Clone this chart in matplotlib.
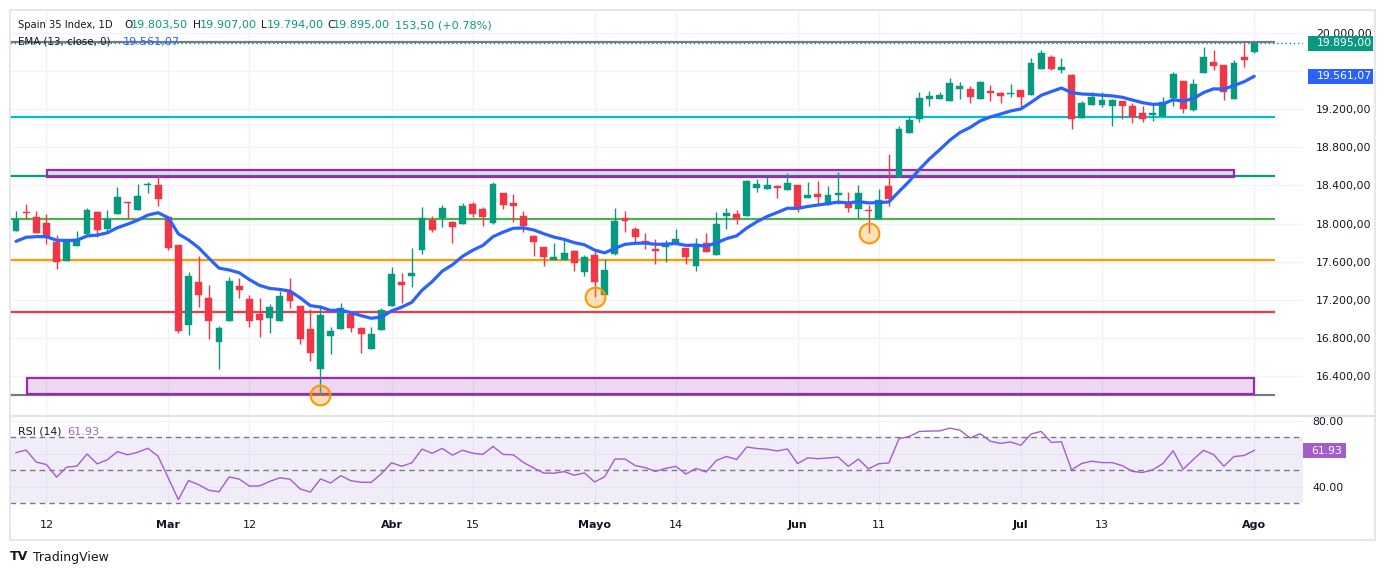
import numpy as np
import matplotlib
matplotlib.use("Agg")
import matplotlib.pyplot as plt
from matplotlib.patches import Rectangle
from matplotlib.lines import Line2D

# ---------------- data ----------------
opens = [17925, 18120, 18068, 18006, 17806, 17610, 17768, 17894, 18121, 17946,
         18104, 18230, 18146, 18401, 18404, 18065, 17771, 16939, 17387, 17219,
         16761, 16981, 17345, 17208, 17051, 17012, 16981, 17285, 17135, 16894,
         16477, 16823, 16897, 17054, 16904, 16687, 16886, 17138, 17387, 17453,
         17722, 18037, 18058, 18020, 17999, 18205, 18153, 18006, 18321, 18216,
         18079, 17869, 17754, 17618, 17621, 17712, 17488, 17670, 17254, 17684,
         18055, 17939, 17817, 17733, 17758, 17800, 17744, 17559, 17793, 17674,
         18083, 18097, 18083, 18377, 18367, 18395, 18356, 18402, 18265, 18311,
         18195, 18303, 18219, 18149, 18143, 18048, 18394, 18485, 18954, 19097,
         19311, 19311, 19290, 19416, 19409, 19307, 19391, 19370, 19363, 19402,
         19349, 19626, 19748, 19615, 19563, 19111, 19248, 19248, 19237, 19286,
         19237, 19160, 19143, 19132, 19318, 19493, 19195, 19584, 19696, 19664,
         19307, 19748, 19803.5]
highs = [18135, 18205, 18131, 18100, 17876, 17841, 17922, 18163, 18128, 18142,
         18384, 18230, 18412, 18436, 18510, 18065, 17771, 17488, 17659, 17355,
         16925, 17439, 17432, 17250, 17222, 17156, 17296, 17432, 17135, 17103,
         17128, 16918, 17170, 17060, 16918, 16918, 17117, 17544, 17485, 17743,
         18174, 18079, 18198, 18030, 18219, 18223, 18177, 18436, 18321, 18310,
         18132, 17880, 17754, 17796, 17827, 17722, 17670, 17715, 17625, 18160,
         18132, 17964, 17904, 17838, 17828, 17943, 17744, 17849, 17901, 18122,
         18167, 18143, 18461, 18468, 18489, 18400, 18531, 18405, 18433, 18447,
         18394, 18538, 18328, 18401, 18199, 18359, 18730, 19024, 19129, 19381,
         19391, 19384, 19531, 19486, 19444, 19493, 19451, 19384, 19468, 19402,
         19738, 19822, 19769, 19734, 19570, 19286, 19381, 19384, 19307, 19286,
         19262, 19234, 19251, 19325, 19591, 19493, 19521, 19853, 19818, 19664,
         19713, 19895, 19907]
lows = [17920, 18044, 17900, 17789, 17526, 17605, 17768, 17894, 17855, 17897,
        18104, 18062, 18146, 18324, 18188, 17719, 16855, 16834, 17127, 16792,
        16474, 16981, 17222, 16918, 16813, 16855, 16981, 17117, 16740, 16561,
        16201, 16635, 16897, 16862, 16645, 16687, 16886, 17138, 17170, 17338,
        17684, 17911, 17967, 17799, 17999, 18072, 17978, 17999, 18149, 18020,
        17915, 17660, 17555, 17618, 17621, 17506, 17453, 17233, 17254, 17670,
        17915, 17810, 17736, 17579, 17601, 17800, 17576, 17506, 17700, 17674,
        17943, 17992, 18083, 18335, 18367, 18272, 18356, 18125, 18265, 18202,
        18195, 18205, 18125, 18055, 17905, 18048, 18185, 18485, 18954, 19062,
        19237, 19311, 19290, 19311, 19269, 19307, 19290, 19269, 19325, 19227,
        19349, 19626, 19615, 19577, 18989, 19111, 19248, 19227, 19028, 19094,
        19059, 19066, 19080, 19132, 19230, 19164, 19178, 19584, 19612, 19300,
        19307, 19643, 19794]
closes = [18045, 18110, 17904, 17859, 17600, 17813, 17834, 18139, 17936, 18044,
          18279, 18216, 18289, 18408, 18261, 17747, 16872, 17449, 17254, 16981,
          16904, 17397, 17303, 16981, 16988, 17128, 17243, 17191, 16792, 16645,
          17040, 16872, 17110, 16907, 16845, 16841, 17093, 17471, 17359, 17481,
          18058, 17932, 18163, 17967, 18188, 18104, 18072, 18415, 18198, 18188,
          17974, 17810, 17653, 17646, 17691, 17590, 17646, 17390, 17513, 18027,
          18030, 17862, 17806, 17708, 17786, 17838, 17653, 17786, 17702, 17996,
          18111, 18048, 18447, 18416, 18402, 18370, 18426, 18150, 18300, 18283,
          18300, 18321, 18160, 18317, 18132, 18244, 18261, 18993, 19087, 19318,
          19339, 19349, 19475, 19444, 19328, 19486, 19367, 19335, 19374, 19328,
          19685, 19790, 19622, 19643, 19094, 19265, 19328, 19297, 19297, 19237,
          19122, 19101, 19150, 19272, 19570, 19206, 19465, 19748, 19657, 19384,
          19685, 19720, 19895]

date_labels = ["12", "Mar", "12", "Abr", "15", "Mayo", "14", "Jun", "11", "Jul", "13", "Ago"]
date_label_bars = [3, 15, 23, 37, 45, 57, 65, 77, 85, 99, 107, 122]
month_labels = {"Mar", "Abr", "Mayo", "Jun", "Jul", "Ago"}

price_ticks = [16400, 16800, 17200, 17600, 18000, 18400, 18800, 19200, 19600, 20000]
hidden_price_ticks = [19600]      # covered by the EMA value box in the reference
rsi_ticks = [40, 60, 80]
hidden_rsi_ticks = [60]           # covered by the RSI value box in the reference

# header values
title_name = "Spain 35 Index, 1D"
ohlc_text = ["19.803,50", "19.907,00", "19.794,00", "19.895,00"]
change_text = "153,50 (+0.78%)"
ema_text = "19.561,07"
rsi_text = "61.93"
RSI_LAST = 61.93

# horizontal levels drawn on the chart
level_values = [19907, 19118, 18500, 18050, 17620, 17072, 16200]
level_colors = ["#787b86", "#00bcd4", "#089981", "#4caf50", "#ff9800", "#f23645", "#787b86"]

# zones (rectangles): [bar_start, bar_end, price_low, price_high]
zone_top = [3.05, 120.0, 18490, 18563]
zone_bottom = [1.08, 122.0, 16210, 16380]

# highlighted lows (bars)
circle_bars = [30, 57, 84]

EMA_LEN = 13
EMA_FIRST = 17813         # EMA value at the first visible bar
RSI_LEN = 14
RSI_SEED_GAIN = 75.0      # Wilder averages at first visible bar
RSI_SEED_LOSS = 48.5

# ---------------- derived indicators ----------------
O = np.array(opens, float); H = np.array(highs, float)
L = np.array(lows, float); C = np.array(closes, float)
n = len(C)
idx = np.arange(n)

ema = np.empty(n)
ema[0] = EMA_FIRST
a = 2.0 / (EMA_LEN + 1)
for i in range(1, n):
    ema[i] = ema[i - 1] + a * (C[i] - ema[i - 1])

rsi = np.empty(n)
g, l = RSI_SEED_GAIN, RSI_SEED_LOSS
rsi[0] = 100 - 100 / (1 + g / l)
for i in range(1, n):
    d = C[i] - C[i - 1]
    g = (g * (RSI_LEN - 1) + max(d, 0)) / RSI_LEN
    l = (l * (RSI_LEN - 1) + max(-d, 0)) / RSI_LEN
    rsi[i] = 100 - 100 / (1 + g / l)

# ---------------- layout ----------------
W, Hpx = 1388, 575
fig = plt.figure(figsize=(W / 100, Hpx / 100), dpi=100)
fig.patch.set_facecolor("white")

def fx(x): return x / W
def fy(y): return 1 - y / Hpx

LEFT, RIGHT = 10, 1303
MAIN_TOP, MAIN_BOT = 10, 416
RSI_BOT = 512

ax = fig.add_axes([fx(LEFT), fy(MAIN_BOT), fx(RIGHT) - fx(LEFT), fy(MAIN_TOP) - fy(MAIN_BOT)])
axr = fig.add_axes([fx(LEFT), fy(RSI_BOT), fx(RIGHT) - fx(LEFT), fy(MAIN_BOT) - fy(RSI_BOT)], sharex=ax)

GREEN, RED = "#089981", "#f23645"
BLUE = "#2962ff"
PURPLE = "#a35ecb"
GRID = "#f0f3fa"
TXT = "#131722"

xlim = (-0.59, 126.8)
ax.set_xlim(*xlim)
ax.set_ylim(15980, 20241)
axr.set_ylim(24.7, 82.9)

for a_ in (ax, axr):
    for s in a_.spines.values():
        s.set_visible(False)
    a_.set_facecolor("white")
    a_.tick_params(length=0)
    for b in date_label_bars:
        a_.axvline(b, color=GRID, lw=1, zorder=0)

def fmt_price(p):
    return f"{p:,.2f}".replace(",", "X").replace(".", ",").replace("X", ".")

# price grid + ticks
for p in price_ticks:
    ax.axhline(p, color=GRID, lw=1, zorder=0)
shown_prices = [p for p in price_ticks if p not in hidden_price_ticks]
ax.yaxis.tick_right()
ax.set_yticks(shown_prices)
ax.set_yticklabels([fmt_price(p) for p in shown_prices], fontsize=7.8, color=TXT, family="DejaVu Sans")
ax.tick_params(axis="y", pad=9.5)
ax.tick_params(axis="x", labelbottom=False)

# levels
for v, c in zip(level_values, level_colors):
    ax.plot([xlim[0], 124.0], [v, v], color=c, lw=1.6, zorder=2, solid_capstyle="butt")

# zones
for z in (zone_top, zone_bottom):
    ax.add_patch(Rectangle((z[0], z[2]), z[1] - z[0], z[3] - z[2], facecolor="#9c27b0", alpha=0.18,
                           edgecolor="none", zorder=2))
    ax.add_patch(Rectangle((z[0], z[2]), z[1] - z[0], z[3] - z[2], facecolor="none",
                           edgecolor="#9c27b0", lw=1.6, zorder=2.1))

# last price dotted line
ax.plot([xlim[0], xlim[1]], [C[-1], C[-1]], color=GREEN, lw=1, ls=(0, (1, 2)), zorder=2.2)

# candles
bw = 0.68
for i in range(n):
    col = GREEN if C[i] >= O[i] else RED
    ax.vlines(i, L[i], H[i], color=col, lw=1, zorder=3)
    lo, hi = min(O[i], C[i]), max(O[i], C[i])
    if hi - lo < 12:
        hi = lo + 12
    ax.add_patch(Rectangle((i - bw / 2, lo), bw, hi - lo, facecolor=col, edgecolor=col, lw=0.3, zorder=3.1))

# EMA
ax.plot(idx, ema, color=BLUE, lw=2.3, zorder=4, solid_capstyle="round")

# circles
ax.scatter(circle_bars, [L[b] for b in circle_bars], s=200, facecolor=(1.0, 0.6, 0.0, 0.28),
           edgecolor="#ff9800", linewidth=1.5, zorder=5)

# ---------------- RSI pane ----------------
axr.axhspan(30, 70, color="#7e57c2", alpha=0.1, lw=0, zorder=0.5)
for v in (70, 50, 30):
    axr.axhline(v, color="#787b86", lw=1, ls=(0, (4, 3)), zorder=1)
for v in rsi_ticks:
    axr.axhline(v, color=GRID, lw=1, zorder=0.4)
axr.plot(idx, rsi, color=PURPLE, lw=1, zorder=3)
axr.yaxis.tick_right()
shown_rsi = [v for v in rsi_ticks if v not in hidden_rsi_ticks]
axr.set_yticks(shown_rsi)
axr.set_yticklabels([f"{v:.2f}" for v in shown_rsi], fontsize=7.8, color=TXT)
axr.tick_params(axis="y", pad=7)
axr.set_xticks(date_label_bars)
axr.set_xticklabels(date_labels, fontsize=8, color=TXT)
for t in axr.get_xticklabels():
    if t.get_text() in month_labels:
        t.set_fontweight("bold")
axr.tick_params(axis="x", pad=6)

# ---------------- frame & separators ----------------
fig.add_artist(Rectangle((fx(10), fy(540)), fx(1375) - fx(10), fy(10) - fy(540), transform=fig.transFigure,
                         facecolor="none", edgecolor="#e0e3eb", lw=1.2))
fig.add_artist(Line2D([fx(10), fx(1375)], [fy(416), fy(416)], color="#e0e3eb", lw=1.5))

# ---------------- texts ----------------
def ftxt(x, y, s, color=TXT, size=8.1, **kw):
    fig.text(fx(x), fy(y), s, color=color, fontsize=size, va="center", ha="left", family="DejaVu Sans", **kw)

ftxt(18, 25, title_name, size=7.2)
for lab, xl, xv, val in zip("OHLC", [124, 193, 261, 327], [131, 199.5, 267, 333], ohlc_text):
    ftxt(xl, 25, lab, size=7.6)
    ftxt(xv, 25, val, GREEN)
ftxt(395, 25, change_text, GREEN)
ftxt(18, 42, "EMA (13, close, 0)", size=7.4)
ftxt(123, 42, ema_text, BLUE)
ftxt(18, 432, "RSI (14)", size=7.8)
ftxt(67, 432, rsi_text, PURPLE)

def ypx(p):
    return 33 + (20000 - p) * 0.09528

def price_box(y, s, color, x0=1308, x1=1373, xt=1317):
    fig.add_artist(Rectangle((fx(x0), fy(y + 7.5)), fx(x1) - fx(x0), fy(y - 7.5) - fy(y + 7.5),
                             transform=fig.transFigure, facecolor=color, edgecolor="none", zorder=5))
    fig.text(fx(xt), fy(y), s, color="white", fontsize=7.8, va="center", ha="left", zorder=6,
             family="DejaVu Sans")

price_box(ypx(C[-1]), ohlc_text[3], GREEN)
price_box(ypx(ema[-1]), ema_text, BLUE)
price_box(470.3 - (RSI_LAST - 50) * 1.65, rsi_text, PURPLE, x0=1303, x1=1346, xt=1311)

# TradingView logo
fig.text(fx(10), fy(557), "TV", color=TXT, fontsize=9, fontweight="bold", va="center", ha="left",
         family="DejaVu Sans")
fig.text(fx(33), fy(557), "TradingView", color=TXT, fontsize=9, va="center", ha="left", family="DejaVu Sans")

fig.savefig("out.png", dpi=100)
